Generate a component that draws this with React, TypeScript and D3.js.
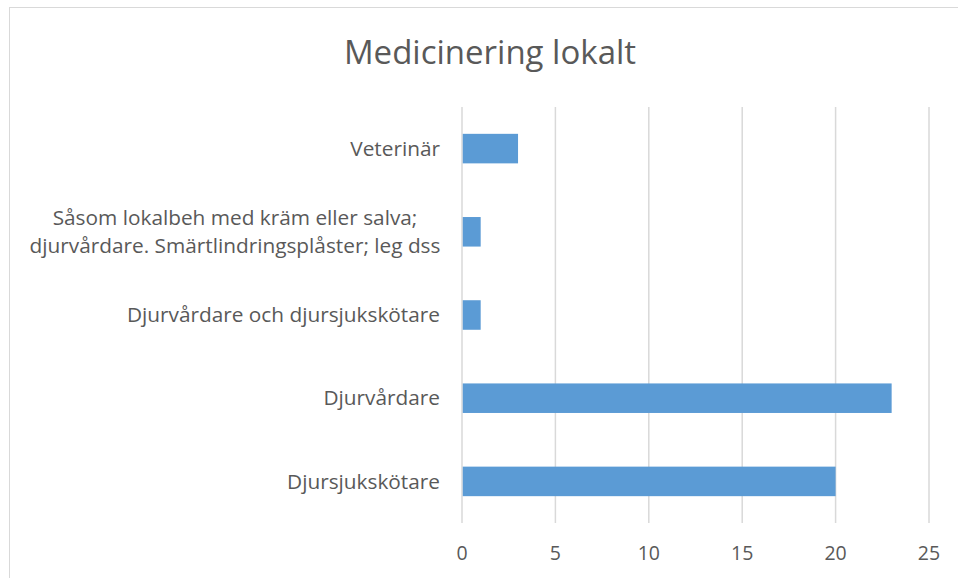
import React from "react";
import * as d3 from "d3";

const categories = [
  "Veterinär",
  "Såsom lokalbeh med kräm eller salva;\ndjurvårdare. Smärtlindringsplåster; leg dss",
  "Djurvårdare och djursjukskötare",
  "Djurvårdare",
  "Djursjukskötare",
];
const values = [3, 1, 1, 23, 20];
const ticks = [0, 5, 10, 15, 20, 25];

const width = 958;
const height = 578;
const font = "'Open Sans', 'Noto Sans', sans-serif";
const textColor = "#595959";

export default function App() {
  const x = d3.scaleLinear().domain([0, 25]).range([462, 929]);
  const y = d3
    .scaleBand()
    .domain(categories)
    .range([107, 523])
    .paddingInner(0.645)
    .paddingOuter(0.3225);

  return (
    <svg
      width={width}
      height={height}
      style={{ position: "absolute", left: 0, top: 0, background: "#fff" }}
    >
      <rect x={9.5} y={7.5} width={1000} height={1000} fill="#fff" stroke="#d9d9d9" strokeWidth={1} />
      <text
        x={490}
        y={64}
        textAnchor="middle"
        fontFamily={font}
        fontSize={33}
        fill={textColor}
      >
        Medicinering lokalt
      </text>
      {ticks.map((t) => (
        <g key={t}>
          <line x1={x(t)} x2={x(t)} y1={107} y2={523} stroke="#d9d9d9" strokeWidth={1.5} />
          <text
            x={x(t)}
            y={553}
            dy="0.35em"
            textAnchor="middle"
            fontFamily={font}
            fontSize={19.5}
            fill={textColor}
          >
            {t}
          </text>
        </g>
      ))}
      {categories.map((c, i) => {
        const lines = c.split("\n");
        const cy = (y(c) ?? 0) + y.bandwidth() / 2;
        return (
          <g key={c}>
            <rect
              x={x(0) + 0.75}
              y={y(c)}
              width={x(values[i]) - x(0) - 0.75}
              height={y.bandwidth()}
              fill="#5b9bd5"
            />
            <text fontFamily={font} fontSize={20.8} fill={textColor}>
              {lines.map((l, j) => (
                <tspan
                  key={j}
                  x={lines.length > 1 ? 235 : 440}
                  textAnchor={lines.length > 1 ? "middle" : "end"}
                  y={cy + (j - (lines.length - 1) / 2) * 28}
                  dy="0.35em"
                >
                  {l}
                </tspan>
              ))}
            </text>
          </g>
        );
      })}
    </svg>
  );
}
